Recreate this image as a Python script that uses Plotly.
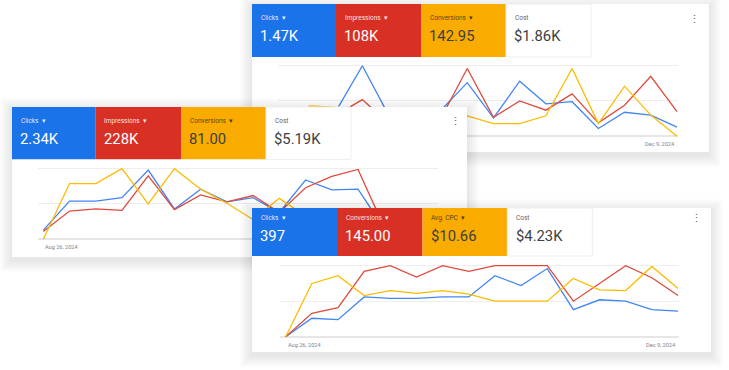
import pandas as pd
import plotly.graph_objects as go

W, H = 729, 370

# ---------------- DATA ----------------
weeks = pd.date_range("2024-08-26", "2024-12-09", freq="7D")  # 16 weekly points
start_label = "Aug 26, 2024"
end_label = "Dec 9, 2024"

# Each metric is drawn on its own normalised scale (% of the period maximum)
c1_metrics = ["Clicks", "Impressions", "Conversions", "Cost"]
c1_totals = ["1.47K", "108K", "142.95", "$1.86K"]
c1_clicks = [15, 28, 36, 100, 30, 22, 37, 76, 26, 78, 46, 49, 11, 34, 30, 13]
c1_impressions = [12, 22, 30, 52, 18, 25, 26, 96, 27, 50, 37, 60, 19, 44, 85, 35]
c1_conversions = [8, 43, 41, 30, 32, 28, 33, 29, 18, 18, 29, 96, 18, 71, 30, 0]

c2_metrics = ["Clicks", "Impressions", "Conversions", "Cost"]
c2_totals = ["2.34K", "228K", "81.00", "$5.19K"]
c2_clicks = [13, 54, 54, 59, 98, 43, 71, 53, 59, 38, 84, 70, 71, 15, 24, 20]
c2_impressions = [11, 40, 43, 41, 90, 42, 63, 53, 62, 38, 73, 89, 99, 17, 25, 30]
c2_conversions = [0, 79, 79, 100, 50, 100, 71, 51, 28, 58, 33, 30, 36, 28, 25, 20]

c3_metrics = ["Clicks", "Conversions", "Avg. CPC", "Cost"]
c3_totals = ["397", "145.00", "$10.66", "$4.23K"]
c3_clicks = [0, 26, 24, 56, 54, 54, 56, 56, 86, 72, 96, 38, 52, 50, 38, 36]
c3_conversions = [0, 33, 41, 92, 100, 84, 100, 92, 100, 100, 100, 50, 75, 100, 83, 58]
c3_avg_cpc = [0, 75, 86, 58, 65, 61, 65, 60, 50, 50, 50, 82, 66, 65, 99, 68]

# ---------------- STYLE / LAYOUT ----------------
TILE_COLORS = ["#1a73e8", "#d93025", "#f9ab00", "#ffffff"]
LINE_COLORS = ["#4285f4", "#dd4b3e", "#fbbc04"]
LABEL_COLORS = ["rgba(255,255,255,0.88)", "rgba(255,255,255,0.88)", "rgba(32,33,36,0.78)", "#5f6368"]
VALUE_COLORS = ["#ffffff", "#ffffff", "#3c4043", "#3c4043"]
FONT = "Roboto, Arial, sans-serif"

cards = [
    dict(metrics=c1_metrics, totals=c1_totals, series=[c1_clicks, c1_impressions, c1_conversions],
         box=(252, 709, 4, 152), edges=[252, 336, 421, 506, 591], tile_y=(4, 57),
         label_dy=14, value_dy=31.5, grid=(278, 677, 65.7, 136.3), first_px=283.7,
         dots=(694, 19), date_y=144, show_start=False, show_end=True),
    dict(metrics=c2_metrics, totals=c2_totals, series=[c2_clicks, c2_impressions, c2_conversions],
         box=(12, 467, 107, 257), edges=[12, 95.3, 181, 266, 351], tile_y=(107, 159.3),
         label_dy=13.5, value_dy=31.5, grid=(38, 436.7, 168.7, 239.3), first_px=43.3,
         dots=(455, 122), date_y=246.7, show_start=True, show_end=False),
    dict(metrics=c3_metrics, totals=c3_totals, series=[c3_clicks, c3_conversions, c3_avg_cpc],
         box=(252, 711, 208, 352), edges=[252, 337, 422.5, 507.3, 592.3], tile_y=(208, 256),
         label_dy=10, value_dy=27.7, grid=(280, 678, 265.7, 336.7), first_px=285.7,
         dots=(696, 219), date_y=344.5, show_start=True, show_end=True),
]


def px2paper(x, y):
    return x / W, 1 - y / H


def axname(n):
    return "" if n == 1 else str(n)


fig = go.Figure()
layout = dict(
    width=W, height=H, margin=dict(l=0, r=0, t=0, b=0),
    paper_bgcolor="white", plot_bgcolor="rgba(0,0,0,0)",
    showlegend=False, font=dict(family=FONT),
)
shapes = []
annotations = []
MARGIN = 16
PAD = 2.5
SHADOW_STEPS = 12
span_days = (weeks[-1] - weeks[0]).days

for k, c in enumerate(cards):
    nf = 2 * k + 1  # frame subplot
    nc = 2 * k + 2  # chart subplot
    x0, x1, y0, y1 = c["box"]
    fx0, fx1 = max(0, x0 - MARGIN), min(W, x1 + MARGIN)
    fy0, fy1 = max(0, y0 - MARGIN), min(H, y1 + MARGIN)
    layout["xaxis" + axname(nf)] = dict(domain=[fx0 / W, fx1 / W], range=[fx0, fx1], visible=False,
                                        anchor="y" + axname(nf), fixedrange=True)
    layout["yaxis" + axname(nf)] = dict(domain=[1 - fy1 / H, 1 - fy0 / H], range=[fy1, fy0], visible=False,
                                        anchor="x" + axname(nf), fixedrange=True)
    xr, yr = "x" + axname(nf), "y" + axname(nf)
    fig.add_trace(go.Scatter(x=[None], y=[None], xaxis=xr, yaxis=yr, hoverinfo="skip", showlegend=False))

    # soft shadow
    for i in range(SHADOW_STEPS, 0, -1):
        shapes.append(dict(type="rect", xref=xr, yref=yr, x0=x0 - i, x1=x1 + i, y0=y0 - i + 3, y1=y1 + i + 3,
                           fillcolor="rgba(0,0,0,0.0075)", line=dict(width=0), layer="below"))
    shapes.append(dict(type="rect", xref=xr, yref=yr, x0=x0, x1=x1, y0=y0, y1=y1,
                       fillcolor="white", line=dict(width=0), layer="below"))
    ty0, ty1 = c["tile_y"]
    for t in range(4):
        shapes.append(dict(type="rect", xref=xr, yref=yr, x0=c["edges"][t], x1=c["edges"][t + 1], y0=ty0, y1=ty1,
                           fillcolor=TILE_COLORS[t],
                           line=dict(width=1 if t == 3 else 0, color="#ededed"), layer="below"))
        lx = c["edges"][t] + 6.8
        name = c["metrics"][t] + ("" if t == 3 else "  \u25be")
        ax_, ay_ = px2paper(lx, ty0 + c["label_dy"])
        annotations.append(dict(xref="paper", yref="paper", x=ax_, y=ay_, xanchor="left", yanchor="middle",
                                text=name, showarrow=False,
                                font=dict(size=6.5, color=LABEL_COLORS[t], family=FONT)))
        ax_, ay_ = px2paper(lx - 0.5, ty0 + c["value_dy"])
        annotations.append(dict(xref="paper", yref="paper", x=ax_, y=ay_, xanchor="left", yanchor="middle",
                                text=c["totals"][t], showarrow=False,
                                font=dict(size=14.8, color=VALUE_COLORS[t], family=FONT)))
    dx, dy = px2paper(*c["dots"])
    annotations.append(dict(xref="paper", yref="paper", x=dx, y=dy, xanchor="center", yanchor="middle",
                            text="\u22ee", showarrow=False, font=dict(size=11, color="#5f6368")))

    # chart subplot
    gx0, gx1, gtop, gbot = c["grid"]
    ppu = (gbot - gtop) / 100.0
    px_per_day = (gx1 - c["first_px"]) / span_days
    off = (c["first_px"] - gx0) / px_per_day
    end_pad = 1.0 / px_per_day
    xstart = (weeks[0] - pd.Timedelta(days=off)).strftime("%Y-%m-%d %H:%M:%S")
    xend = (weeks[-1] + pd.Timedelta(days=end_pad)).strftime("%Y-%m-%d %H:%M:%S")
    layout["xaxis" + axname(nc)] = dict(domain=[gx0 / W, (gx1 + 1) / W], range=[xstart, xend], type="date",
                                        showgrid=False, showticklabels=False, zeroline=False, showline=False,
                                        ticks="", anchor="y" + axname(nc), fixedrange=True)
    layout["yaxis" + axname(nc)] = dict(domain=[1 - (gbot + PAD * ppu) / H, 1 - (gtop - PAD * ppu) / H],
                                        range=[-PAD, 100 + PAD], tickvals=[0, 50, 100],
                                        showgrid=True, gridcolor="#eeeeee", gridwidth=1,
                                        showticklabels=False, zeroline=True, zerolinecolor="#e6e6e6",
                                        zerolinewidth=1.6, showline=False, ticks="",
                                        anchor="x" + axname(nc), fixedrange=True)
    for s, vals in enumerate(c["series"]):
        fig.add_trace(go.Scatter(x=weeks, y=vals, mode="lines", xaxis="x" + axname(nc), yaxis="y" + axname(nc),
                                 line=dict(color=LINE_COLORS[s], width=1.3), hoverinfo="skip",
                                 showlegend=False))
    if c["show_start"]:
        ax_, ay_ = px2paper(c["first_px"], c["date_y"])
        annotations.append(dict(xref="paper", yref="paper", x=ax_, y=ay_, xanchor="left", yanchor="middle",
                                text=start_label, showarrow=False,
                                font=dict(size=5.6, color="#80868b", family=FONT)))
    if c["show_end"]:
        ax_, ay_ = px2paper(gx1, c["date_y"])
        annotations.append(dict(xref="paper", yref="paper", x=ax_, y=ay_, xanchor="right", yanchor="middle",
                                text=end_label, showarrow=False,
                                font=dict(size=5.6, color="#80868b", family=FONT)))

layout["shapes"] = shapes
layout["annotations"] = annotations
fig.update_layout(**layout)

fig.write_html("out.html", config={"displayModeBar": False},
               post_script="document.body.style.margin='0';")
